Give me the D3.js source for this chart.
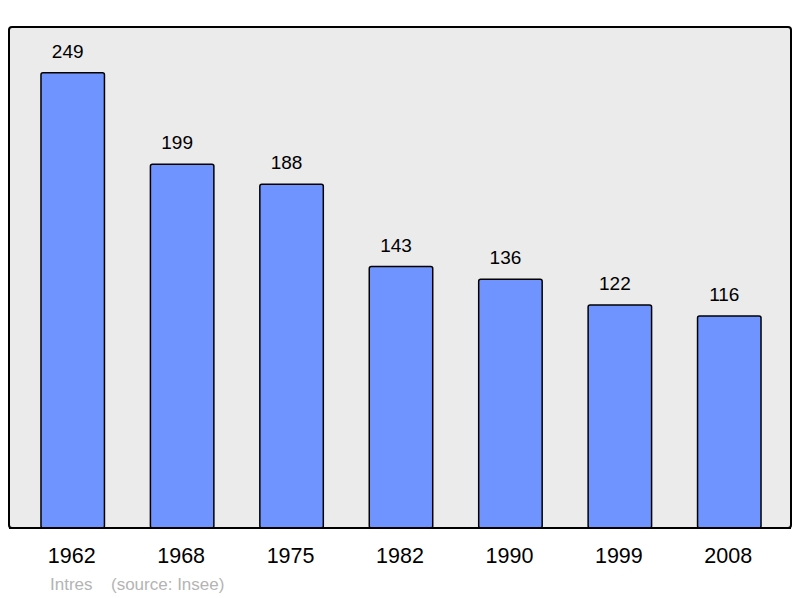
<!DOCTYPE html>
<meta charset="utf-8">
<style>
body { margin: 0; background: #fff; }
text { font-family: "Liberation Sans", Arial, sans-serif; }
.bar { fill: #7094ff; stroke: #000; stroke-width: 1.5; }
</style>
<body>
<script src="https://d3js.org/d3.v7.min.js"></script>
<script>
var years = ["1962", "1968", "1975", "1982", "1990", "1999", "2008"];
var population = [249, 199, 188, 143, 136, 122, 116];

var width = 800, height = 598;
var frame = {left: 9, top: 27, right: 791, bottom: 528};

var x = d3.scaleBand()
    .domain(years)
    .range([18, 784])
    .paddingInner(0.42)
    .paddingOuter(0.21);
var y = d3.scaleLinear()
    .domain([0, 274])
    .range([frame.bottom, frame.top]);

var svg = d3.select("body").append("svg")
    .attr("width", width)
    .attr("height", height);

// grey plot frame
svg.append("rect")
    .attr("x", frame.left)
    .attr("y", frame.top)
    .attr("width", frame.right - frame.left)
    .attr("height", frame.bottom - frame.top)
    .attr("rx", 3)
    .attr("fill", "#ebebeb")
    .attr("stroke", "#000")
    .attr("stroke-width", 2);

var data = years.map(function(d, i) { return {year: d, value: population[i]}; });

svg.selectAll(".bar")
    .data(data)
  .enter().append("rect")
    .attr("class", "bar")
    .attr("x", function(d) { return x(d.year); })
    .attr("y", function(d) { return y(d.value); })
    .attr("width", x.bandwidth())
    .attr("height", function(d) { return frame.bottom - y(d.value); })
    .attr("rx", 2);

// value labels (sit slightly left of bar centre, like the original)
svg.selectAll(".val")
    .data(data)
  .enter().append("text")
    .attr("class", "val")
    .attr("x", function(d) { return x(d.year) + x.bandwidth() / 2 - 5; })
    .attr("y", function(d) { return y(d.value) - 15; })
    .attr("text-anchor", "middle")
    .attr("font-size", 19)
    .text(function(d) { return d.value; });

// redraw frame border over bar bottoms
svg.append("line")
    .attr("x1", frame.left).attr("x2", frame.right)
    .attr("y1", frame.bottom).attr("y2", frame.bottom)
    .attr("stroke", "#000").attr("stroke-width", 2);

// year axis
var axis = svg.append("g")
    .attr("transform", "translate(0," + frame.bottom + ")")
    .call(d3.axisBottom(x).tickSize(0).tickPadding(20));
axis.select(".domain").remove();
axis.selectAll("text")
    .attr("font-size", 21.5)
    .attr("fill", "#000")
    .attr("dx", -1)
    .style("font-family", "'Liberation Sans', Arial, sans-serif");

// footer
svg.append("text")
    .attr("x", 50)
    .attr("y", 590)
    .attr("font-size", 17)
    .attr("fill", "#b4b4b4")
    .text("Intres");
svg.append("text")
    .attr("x", 111)
    .attr("y", 590)
    .attr("font-size", 17)
    .attr("fill", "#b4b4b4")
    .text("(source: Insee)");
</script>
</body>
